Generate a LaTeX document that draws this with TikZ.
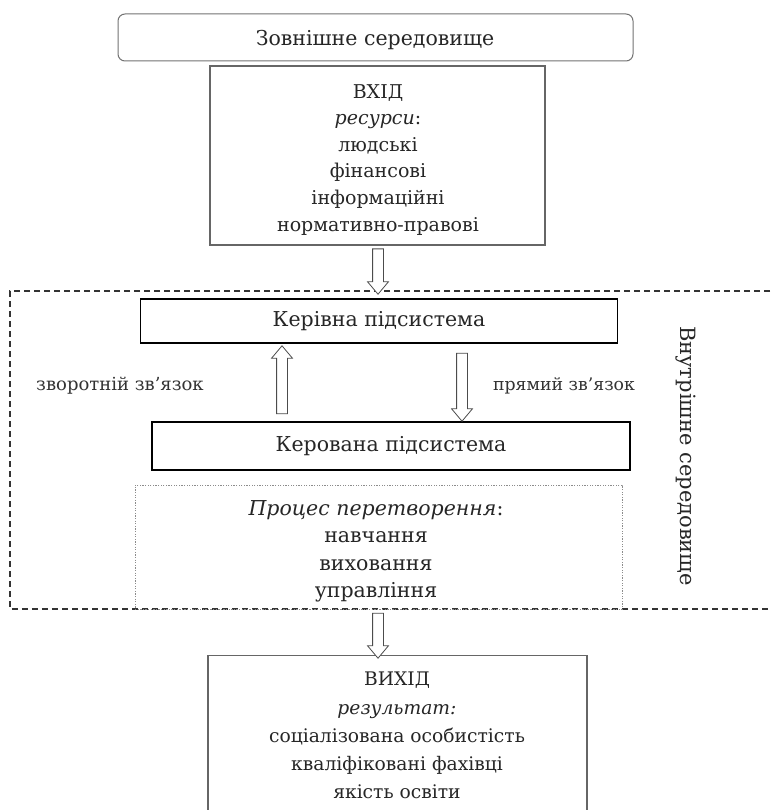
\documentclass[tikz,border=0pt]{standalone}
\usepackage{fontspec}
\setmainfont{DejaVu Serif}
\usetikzlibrary{shapes.arrows,calc}
\begin{document}
\begin{tikzpicture}[x=1pt,y=-1pt,
  graybox/.style={draw=black!60, line width=1.3pt, inner sep=0pt},
  strongbox/.style={draw=black, line width=1.7pt, inner sep=0pt},
  txt/.style={inner sep=0pt, align=center, text=black!85},
  hollowarrow/.style={single arrow, draw=black!70, line width=0.8pt, fill=white,
    inner sep=5pt, single arrow head extend=5pt, single arrow tip angle=80,
    shape border rotate=#1, anchor=center},
  lbl/.style={inner sep=0pt, text=black!80}
]
\useasboundingbox (0,0) rectangle (771,810);
\fill[white] (0,0) rectangle (771,810);

% outer environment
\node[draw=black!55, line width=1pt, rounded corners=7pt, minimum width=515pt,
  minimum height=47pt, inner sep=0pt] (env) at (375.5,37.5) {};
\node[txt, font=\fontsize{20.5}{24}\selectfont] (envtxt) at (375,40) {Зовнішне середовище};

% input
\node[graybox, minimum width=335pt, minimum height=179pt] (in) at (377.5,155.5) {};
\node[txt, anchor=north, font=\fontsize{19}{26.6}\selectfont] (intxt) at (378,84)
  {ВХІД\\ \textit{ресурси}:\\ людські\\ фінансові\\ інформаційні\\ нормативно-правові};

% inner environment frame (open to the right)
\coordinate (ftl) at (10,291);
\coordinate (fbl) at (10,609);
\draw[dash pattern=on 6pt off 4pt, line width=1.3pt, black!80]
  (780,291) -- (ftl) -- (fbl) -- (780,609);
\coordinate (ftop) at (378,291);
\coordinate (fbot) at (378,610);

% managing subsystem
\node[strongbox, minimum width=477pt, minimum height=44pt] (mgr) at (379,321) {};
\node[txt, font=\fontsize{20.5}{24}\selectfont] (mgrtxt) at (mgr.center) {Керівна підсистема};
% managed subsystem
\node[strongbox, minimum width=478pt, minimum height=48pt] (mgd) at (391,446) {};
\node[txt, font=\fontsize{20.5}{24}\selectfont] (mgdtxt) at (mgd.center) {Керована підсистема};

% process box
\node[draw=black!45, dash pattern=on 1.3pt off 1.3pt, line width=1pt, minimum width=487pt,
  minimum height=124pt, inner sep=0pt] (proc) at (378.5,547) {};
\node[txt, anchor=north, font=\fontsize{20.5}{27.5}\selectfont] (proctxt) at (376,500)
  {\textit{Процес перетворення}:\\ навчання\\ виховання\\ управління};

% output
\node[graybox, minimum width=379pt, minimum height=180pt, anchor=north] (out) at (397.5,655) {};
\node[txt, anchor=north, font=\fontsize{18.7}{28.2}\selectfont] (outtxt) at (397,672)
  {ВИХІД\\ \textit{результат:}\\ соціалізована особистість\\ кваліфіковані фахівці\\ якість освіти};

% block arrows
\path let \p1=(in.south), \p2=(ftop) in
  node[hollowarrow=270, minimum height={\y1-\y2}, minimum width=20pt] (a1)
  at ($(\x2,\y1)!0.5!(ftop)$) {};
\path let \p1=(fbot), \p2=(out.north) in
  node[hollowarrow=270, minimum height={\y1-\y2}, minimum width=20pt] (a2)
  at ($(fbot)!0.5!(\x1,\y2)$) {};
\coordinate (upb) at (282,417);
\coordinate (upt) at (282,349);
\coordinate (dnt) at (462,350);
\coordinate (dnb) at (462,418);
\node[hollowarrow=90, minimum height=68pt, minimum width=20pt] (aup) at ($(upb)!0.5!(upt)$) {};
\node[hollowarrow=270, minimum height=68pt, minimum width=20pt] (adn) at ($(dnt)!0.5!(dnb)$) {};

\node[lbl, font=\fontsize{18}{20}\selectfont] (fb) at (120,386) {зворотній зв’язок};
\node[lbl, font=\fontsize{17.3}{20}\selectfont] (ff) at (564,386) {прямий зв’язок};

\node[rotate=-90, txt, font=\fontsize{21}{24}\selectfont] (inner) at (686,456) {Внутрішне середовище};
\end{tikzpicture}
\end{document}
